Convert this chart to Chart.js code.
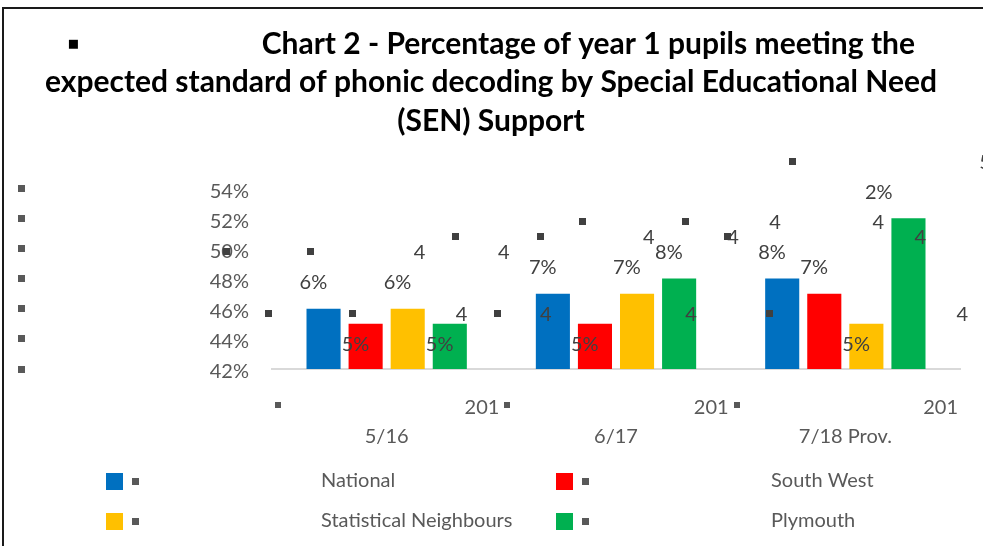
<!DOCTYPE html>
<html>
<head>
<meta charset="utf-8">
<script src="https://cdn.jsdelivr.net/npm/chart.js@4.4.1/dist/chart.umd.min.js"></script>
<style>
  html, body { margin: 0; padding: 0; background: #fff; }
  #wrap { width: 983px; height: 546px; }
</style>
</head>
<body>
<div id="wrap"><canvas id="chartPhonics" width="983" height="546"></canvas></div>
<script>
// Chart data
const categories = ['2015/16', '2016/17', '2017/18 Prov.'];
const seriesNames = ['National', 'South West', 'Statistical Neighbours', 'Plymouth'];
const national = [46, 47, 48];
const southWest = [45, 45, 47];
const statNeighbours = [46, 47, 45];
const plymouth = [45, 48, 52];
const yTicks = [42, 44, 46, 48, 50, 52, 54];
const seriesColours = ['#0070C0', '#FF0000', '#FFC000', '#00B050'];
// leading spaces nudge the centred title a little to the right, like the original
const titleLines = [
  '   \u25AA' + ' '.repeat(25) + 'Chart 2 - Percentage of year 1 pupils meeting the',
  '   expected standard of phonic decoding by Special Educational Need',
  '   (SEN) Support'
];

const FONT = 'Lato';
const GREY = '#595959';
const DARK = '#404040';

const square = (ctx, x, y, s, col) => {
  ctx.fillStyle = col;
  ctx.fillRect(Math.round(x - s / 2), Math.round(y - s / 2), s, s);
};

// white page + frame line on the top and left
const framePlugin = {
  id: 'frame',
  beforeDraw(chart) {
    const ctx = chart.ctx;
    ctx.save();
    ctx.fillStyle = '#fff';
    ctx.fillRect(0, 0, chart.width, chart.height);
    ctx.strokeStyle = '#1a1a1a';
    ctx.lineWidth = 2;
    ctx.beginPath();
    ctx.moveTo(3, chart.height);
    ctx.lineTo(3, 8);
    ctx.lineTo(chart.width, 8);
    ctx.stroke();
    ctx.restore();
  }
};

// split data labels, bullets, category labels and legend
const extrasPlugin = {
  id: 'extras',
  afterDatasetsDraw(chart) {
    const ctx = chart.ctx;
    ctx.save();
    ctx.font = `20px ${FONT}`;
    ctx.textBaseline = 'middle';
    chart.data.datasets.forEach((ds, i) => {
      const meta = chart.getDatasetMeta(i);
      meta.data.forEach((bar, j) => {
        const v = ds.data[j];
        const str = v + '%';
        const yLab = v <= 45 ? bar.y + 21 : bar.y - 26;
        const shift = Math.min(0, 985 - (bar.x + 96));
        ctx.fillStyle = DARK;
        ctx.textAlign = 'left';
        ctx.fillText(str.slice(1), bar.x - 24 + shift, yLab);
        ctx.textAlign = 'center';
        ctx.fillText(str.slice(0, 1), bar.x + 96 + shift, yLab - 30);
        square(ctx, bar.x - 97 + shift, yLab - 31, 7, DARK);
      });
    });
    ctx.restore();
  },
  afterDraw(chart) {
    const ctx = chart.ctx;
    const ys = chart.scales.y;
    const xs = chart.scales.x;
    const area = chart.chartArea;
    ctx.save();
    ctx.font = `20px ${FONT}`;
    ctx.textBaseline = 'middle';

    ys.ticks.forEach(t => square(ctx, 21, ys.getPixelForValue(t.value), 7, GREY));

    const half = (xs.right - xs.left) / categories.length / 2;
    categories.forEach((c, i) => {
      const cx = xs.getPixelForValue(i);
      square(ctx, cx - half + 6, area.bottom + 36, 6, GREY);
      ctx.fillStyle = GREY;
      ctx.textAlign = 'right';
      ctx.fillText(c.slice(0, 3), cx + half - 2, area.bottom + 39);
      ctx.textAlign = 'center';
      ctx.fillText(c.slice(3), cx, area.bottom + 68);
    });

    chart.data.datasets.forEach((ds, i) => {
      const x0 = 106 + (i % 2) * 450;
      const y = 481 + Math.floor(i / 2) * 40;
      ctx.fillStyle = ds.backgroundColor;
      ctx.fillRect(x0, y - 8, 17, 17);
      square(ctx, x0 + 29, y, 7, GREY);
      ctx.fillStyle = GREY;
      ctx.textAlign = 'left';
      ctx.fillText(ds.label, x0 + 215, y);
    });
    ctx.restore();
  }
};

const seriesValues = [national, southWest, statNeighbours, plymouth];

new Chart(document.getElementById('chartPhonics').getContext('2d'), {
  type: 'bar',
  data: {
    labels: categories,
    datasets: seriesNames.map((name, i) => ({
      label: name,
      data: seriesValues[i],
      backgroundColor: seriesColours[i],
      categoryPercentage: 0.734,
      barPercentage: 0.81
    }))
  },
  options: {
    responsive: false,
    animation: false,
    devicePixelRatio: 1,
    layout: { padding: { left: 0, right: 23, top: 0, bottom: 97 } },
    plugins: {
      legend: { display: false },
      tooltip: { enabled: false },
      title: {
        display: true,
        text: titleLines,
        color: '#000',
        font: { family: FONT, size: 30, weight: 'bold', lineHeight: 1.28 },
        padding: { top: 25, bottom: 48 }
      }
    },
    scales: {
      x: {
        ticks: { display: false },
        grid: { display: false, drawTicks: false },
        border: { display: true, color: '#d9d9d9', width: 2 },
        afterFit: s => { s.height = 80; }
      },
      y: {
        min: yTicks[0],
        max: yTicks[yTicks.length - 1],
        ticks: {
          stepSize: 2,
          callback: v => v + '%',
          color: GREY,
          font: { family: FONT, size: 20 },
          padding: 23,
          labelOffset: 3
        },
        grid: { display: false, drawTicks: false },
        border: { display: false },
        afterFit: s => { s.width = 272; }
      }
    }
  },
  plugins: [framePlugin, extrasPlugin]
});
</script>
</body>
</html>
